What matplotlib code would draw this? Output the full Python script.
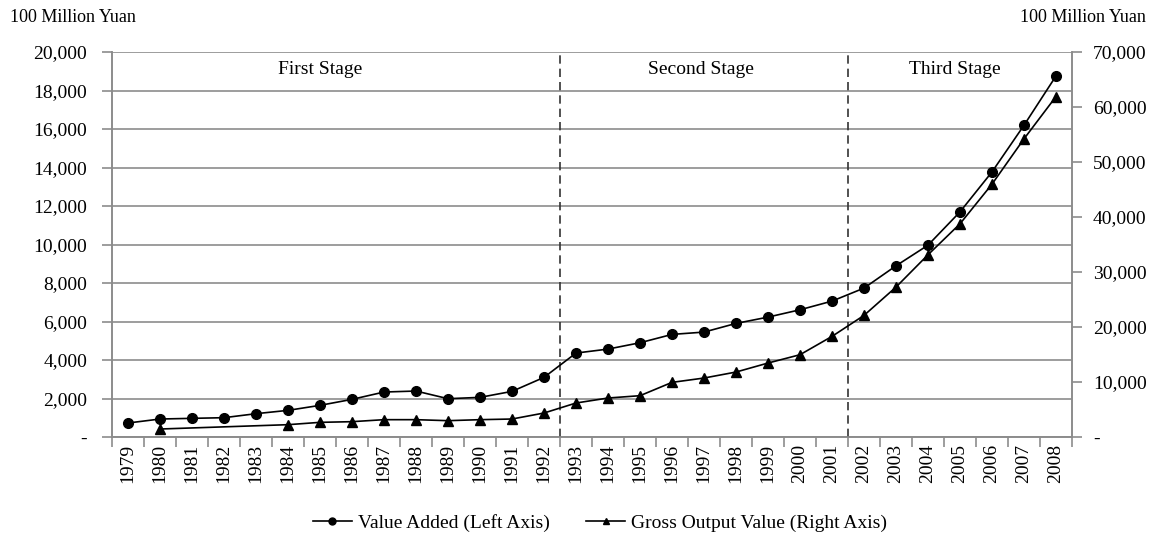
import matplotlib
matplotlib.use("Agg")
import numpy as np
from matplotlib import pyplot as plt
from matplotlib.lines import Line2D
from matplotlib.ticker import FuncFormatter

plt.rcParams['font.family'] = ['Liberation Serif', 'DejaVu Serif']

years = list(range(1979, 2009))
value_added = [727, 934, 969, 1003, 1211, 1384, 1644, 1955, 2336, 2388,
               1990, 2059, 2370, 3097, 4360, 4567, 4896, 5329, 5450, 5900,
               6228, 6609, 7059, 7734, 8893, 9965, 11695, 13771, 16194, 18754]
# gross output has no data for 1979 and 1981-1983
gross_years = [1980] + list(range(1984, 2009))
gross_output = [1450, 2240, 2665, 2786, 3150, 3150, 2968, 3150, 3270, 4360,
                6178, 7087, 7510, 9933, 10720, 11810, 13446, 14960, 18292,
                22108, 27256, 33131, 38764, 45972, 54210, 61902]
stage_names = ["First Stage", "Second Stage", "Third Stage"]
stage_breaks = [1992.5, 2001.5]

GRID = "#8c8c8c"

fig = plt.figure(figsize=(11.52, 5.41), dpi=100)
ax = fig.add_axes([112 / 1152, 1 - 437 / 541, 960 / 1152, 385 / 541])
ax2 = ax.twinx()

x_va = [y - 1979 for y in years]
x_go = [y - 1979 for y in gross_years]

ax.plot(x_va, value_added, color="black", lw=1.2, marker="o", ms=7, zorder=5)
ax2.plot(x_go, gross_output, color="black", lw=1.2, marker="^", ms=7, zorder=5)

ax.set_xlim(-0.5, 29.5)
ax.set_ylim(0, 20000)
ax2.set_ylim(0, 70000)
ax.set_yticks(np.arange(0, 20001, 2000))
ax2.set_yticks(np.arange(0, 70001, 10000))


def money(v, pos):
    return "-" if v == 0 else f"{int(v):,}"


ax.yaxis.set_major_formatter(FuncFormatter(money))
ax2.yaxis.set_major_formatter(FuncFormatter(money))

ax.yaxis.grid(True, color=GRID, lw=1.2)
ax.set_axisbelow(True)

# year labels at category centres, tick marks on category boundaries
ax.set_xticks(np.arange(-0.5, 30, 1))
ax.set_xticklabels([])
ax.set_xticks(x_va, minor=True)
ax.set_xticklabels([str(y) for y in years], minor=True, rotation=90, fontsize=14)
ax.tick_params(axis="x", which="major", length=7, color=GRID, width=1.2)
ax.tick_params(axis="x", which="minor", length=0, pad=5)
ax.tick_params(axis="y", length=7, color=GRID, width=1.2, labelsize=14, pad=11)
ax2.tick_params(axis="y", length=7, color=GRID, width=1.2, labelsize=14, pad=8)

for a in (ax, ax2):
    a.spines["top"].set_visible(False)
    for s in ("left", "right", "bottom"):
        a.spines[s].set_color(GRID)
        a.spines[s].set_linewidth(1.2)

for b in stage_breaks:
    ax.axvline(b - 1979, color="#333333", lw=1.2, ls=(0, (5, 3)), zorder=3)

stage_x = [6.0, 17.9, 25.85]
for name, sx in zip(stage_names, stage_x):
    ax.text(sx, 19100, name, ha="center", va="center", fontsize=14)

fig.text(10 / 1152, 1 - 18 / 541, "100 Million Yuan", fontsize=13, va="center")
fig.text(1146 / 1152, 1 - 18 / 541, "100 Million Yuan", fontsize=13,
         va="center", ha="right")

handles = [Line2D([], [], color="black", lw=1.2, marker="o", ms=5),
           Line2D([], [], color="black", lw=1.2, marker="^", ms=5)]
fig.legend(handles, ["Value Added (Left Axis)", "Gross Output Value (Right Axis)"],
           loc="center", bbox_to_anchor=(600 / 1152, 1 - 523 / 541), ncol=2,
           frameon=False, fontsize=14, handlelength=2.0, columnspacing=1.9,
           handletextpad=0.3)

fig.savefig("out.png", dpi=100)
